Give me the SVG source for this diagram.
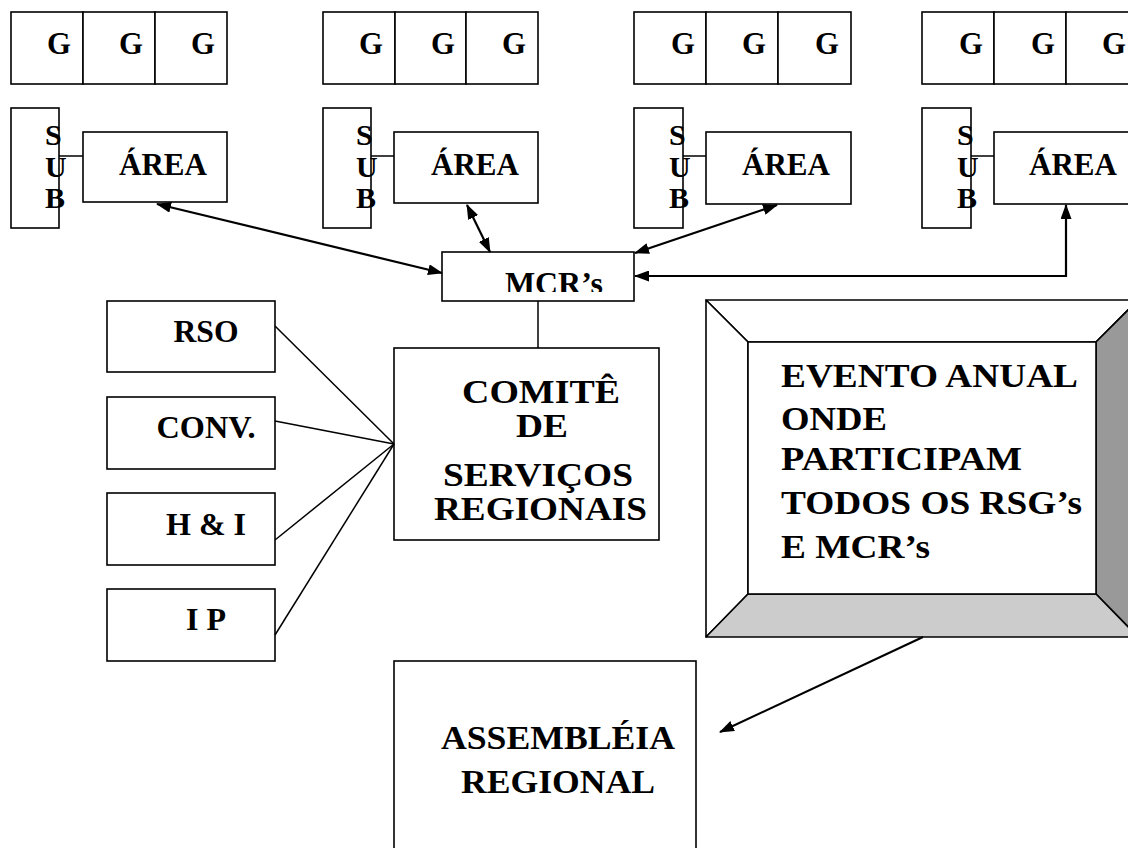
<svg xmlns="http://www.w3.org/2000/svg" width="1128" height="848" viewBox="0 0 1128 848">
<style>
.box{fill:#fff;stroke:#000;stroke-width:1.6}
.ln{fill:none;stroke:#000;stroke-width:1.5}
.arr{fill:none;stroke:#000;stroke-width:2.2}
.t{font-family:'Liberation Serif',LiberationSerif,'Liberation Serif Bold','Times New Roman',Times,Tinos,'Nimbus Roman','DejaVu Serif',serif;font-weight:bold;fill:#000}
.g{font-size:31px;text-anchor:middle}
.m{font-size:32px;text-anchor:middle}
.b{font-size:34px}
</style>
<defs>
<marker id="ah" viewBox="0 0 15 11" refX="14" refY="5.5" markerWidth="15" markerHeight="11" markerUnits="userSpaceOnUse" orient="auto-start-reverse">
<path d="M0,0 L15,5.5 L0,11 z" fill="#000"/>
</marker>
<clipPath id="mcrclip"><rect x="442" y="252" width="192" height="40"/></clipPath>
</defs>
<rect width="1128" height="848" fill="#fff"/>

<g id="grupos1">
<rect class="box" x="11" y="12" width="72" height="72"/><rect class="box" x="83" y="12" width="72" height="72"/><rect class="box" x="155" y="12" width="72" height="72"/>
<text class="t g" x="59" y="54" textLength="24" lengthAdjust="spacingAndGlyphs">G</text><text class="t g" x="131" y="54" textLength="24" lengthAdjust="spacingAndGlyphs">G</text><text class="t g" x="203" y="54" textLength="24" lengthAdjust="spacingAndGlyphs">G</text>
</g>
<g id="grupos2">
<rect class="box" x="323" y="12" width="72" height="72"/><rect class="box" x="395" y="12" width="71" height="72"/><rect class="box" x="466" y="12" width="72" height="72"/>
<text class="t g" x="371" y="54" textLength="24" lengthAdjust="spacingAndGlyphs">G</text><text class="t g" x="443" y="54" textLength="24" lengthAdjust="spacingAndGlyphs">G</text><text class="t g" x="514" y="54" textLength="24" lengthAdjust="spacingAndGlyphs">G</text>
</g>
<g id="grupos3">
<rect class="box" x="634" y="12" width="72" height="72"/><rect class="box" x="706" y="12" width="72" height="72"/><rect class="box" x="778" y="12" width="73" height="72"/>
<text class="t g" x="683" y="54" textLength="24" lengthAdjust="spacingAndGlyphs">G</text><text class="t g" x="754" y="54" textLength="24" lengthAdjust="spacingAndGlyphs">G</text><text class="t g" x="827" y="54" textLength="24" lengthAdjust="spacingAndGlyphs">G</text>
</g>
<g id="grupos4">
<rect class="box" x="922" y="12" width="72" height="72"/><rect class="box" x="994" y="12" width="72" height="72"/><rect class="box" x="1066" y="12" width="72" height="72"/>
<text class="t g" x="971" y="54" textLength="24" lengthAdjust="spacingAndGlyphs">G</text><text class="t g" x="1043" y="54" textLength="24" lengthAdjust="spacingAndGlyphs">G</text><text class="t g" x="1114" y="54" textLength="24" lengthAdjust="spacingAndGlyphs">G</text>
</g>

<g id="sub1">
<rect class="box" x="11" y="108" width="48" height="120"/>
<text class="t" font-size="30" x="45" y="145">S</text><text class="t" font-size="30" x="45" y="177">U</text><text class="t" font-size="30" x="45" y="208">B</text>
</g>
<g id="area1">
<line class="ln" x1="59" y1="156" x2="83" y2="156"/>
<rect class="box" x="83" y="132" width="144" height="70"/>
<text class="t g" x="163" y="175" textLength="88" lengthAdjust="spacingAndGlyphs">ÁREA</text>
</g>
<g id="sub2">
<rect class="box" x="323" y="108" width="48" height="120"/>
<text class="t" font-size="30" x="356" y="145">S</text><text class="t" font-size="30" x="356" y="177">U</text><text class="t" font-size="30" x="356" y="208">B</text>
</g>
<g id="area2">
<line class="ln" x1="371" y1="156" x2="394" y2="156"/>
<rect class="box" x="394" y="132" width="144" height="71"/>
<text class="t g" x="475" y="175" textLength="88" lengthAdjust="spacingAndGlyphs">ÁREA</text>
</g>
<g id="sub3">
<rect class="box" x="634" y="108" width="49" height="120"/>
<text class="t" font-size="30" x="669" y="145">S</text><text class="t" font-size="30" x="669" y="177">U</text><text class="t" font-size="30" x="669" y="208">B</text>
</g>
<g id="area3">
<line class="ln" x1="683" y1="156" x2="706" y2="156"/>
<rect class="box" x="706" y="132" width="145" height="72"/>
<text class="t g" x="786" y="175" textLength="88" lengthAdjust="spacingAndGlyphs">ÁREA</text>
</g>
<g id="sub4">
<rect class="box" x="922" y="108" width="49" height="120"/>
<text class="t" font-size="30" x="957" y="145">S</text><text class="t" font-size="30" x="957" y="177">U</text><text class="t" font-size="30" x="957" y="208">B</text>
</g>
<g id="area4">
<line class="ln" x1="971" y1="156" x2="994" y2="156"/>
<rect class="box" x="994" y="132" width="144" height="72"/>
<text class="t g" x="1073" y="175" textLength="88" lengthAdjust="spacingAndGlyphs">ÁREA</text>
</g>

<g id="mcr">
<rect class="box" x="442" y="252" width="192" height="49"/>
<text class="t g" x="554" y="294" textLength="98" lengthAdjust="spacingAndGlyphs" clip-path="url(#mcrclip)">MCR’s</text>
</g>

<g id="comite">
<rect class="box" x="394" y="348" width="265" height="192"/>
<text class="t b" x="462" y="403" textLength="158" lengthAdjust="spacingAndGlyphs">COMITÊ</text>
<text class="t b" x="516" y="437" textLength="52" lengthAdjust="spacingAndGlyphs">DE</text>
<text class="t b" x="443" y="486" textLength="190" lengthAdjust="spacingAndGlyphs">SERVIÇOS</text>
<text class="t b" x="434" y="520" textLength="213" lengthAdjust="spacingAndGlyphs">REGIONAIS</text>
</g>

<g id="rso"><rect class="box" x="107" y="301" width="168" height="71"/><text class="t m" x="206" y="342" textLength="65" lengthAdjust="spacingAndGlyphs">RSO</text></g>
<g id="conv"><rect class="box" x="107" y="397" width="168" height="72"/><text class="t m" x="206" y="438" textLength="99" lengthAdjust="spacingAndGlyphs">CONV.</text></g>
<g id="hi"><rect class="box" x="107" y="493" width="168" height="72"/><text class="t m" x="206" y="535" textLength="80" lengthAdjust="spacingAndGlyphs">H &amp; I</text></g>
<g id="ip"><rect class="box" x="107" y="589" width="168" height="72"/><text class="t m" x="206" y="630" textLength="40" lengthAdjust="spacingAndGlyphs">I P</text></g>

<g id="evento">
<polygon points="706,300 1138,300 1096,342 748,342" fill="#fff" stroke="#000" stroke-width="1.6" stroke-linejoin="round"/>
<polygon points="706,300 748,342 748,594 706,637" fill="#fff" stroke="#000" stroke-width="1.6" stroke-linejoin="round"/>
<polygon points="1138,300 1138,637 1096,594 1096,342" fill="#999" stroke="#000" stroke-width="1.6" stroke-linejoin="round"/>
<polygon points="706,637 748,594 1096,594 1138,637" fill="#ccc" stroke="#000" stroke-width="1.6" stroke-linejoin="round"/>
<rect class="box" x="748" y="342" width="348" height="252"/>
<text class="t b" x="781" y="387" textLength="297" lengthAdjust="spacingAndGlyphs">EVENTO ANUAL</text>
<text class="t b" x="781" y="430" textLength="106" lengthAdjust="spacingAndGlyphs">ONDE</text>
<text class="t b" x="781" y="470" textLength="241" lengthAdjust="spacingAndGlyphs">PARTICIPAM</text>
<text class="t b" x="781" y="514" textLength="301" lengthAdjust="spacingAndGlyphs">TODOS OS RSG’s</text>
<text class="t b" x="781" y="558" textLength="149" lengthAdjust="spacingAndGlyphs">E MCR’s</text>
</g>

<g id="assembleia">
<rect class="box" x="394" y="661" width="302" height="200"/>
<text class="t b" x="441" y="749" textLength="234" lengthAdjust="spacingAndGlyphs">ASSEMBLÉIA</text>
<text class="t b" x="461" y="793" textLength="194" lengthAdjust="spacingAndGlyphs">REGIONAL</text>
</g>

<g id="connectors">
<line class="arr" x1="157" y1="204" x2="442" y2="273" marker-start="url(#ah)" marker-end="url(#ah)"/>
<line class="arr" x1="467" y1="205" x2="490" y2="252" marker-start="url(#ah)" marker-end="url(#ah)"/>
<line class="arr" x1="777" y1="205" x2="635" y2="253" marker-start="url(#ah)" marker-end="url(#ah)"/>
<polyline class="arr" points="635,276 1066,276 1066,205" marker-start="url(#ah)" marker-end="url(#ah)"/>
<line class="arr" x1="923" y1="637" x2="720" y2="732" marker-end="url(#ah)"/>
<line class="ln" x1="538" y1="301" x2="538" y2="348"/>
<line class="ln" x1="275" y1="326" x2="394" y2="444"/>
<line class="ln" x1="275" y1="421" x2="394" y2="444"/>
<line class="ln" x1="275" y1="540" x2="394" y2="444"/>
<line class="ln" x1="275" y1="635" x2="394" y2="444"/>
</g>
</svg>
